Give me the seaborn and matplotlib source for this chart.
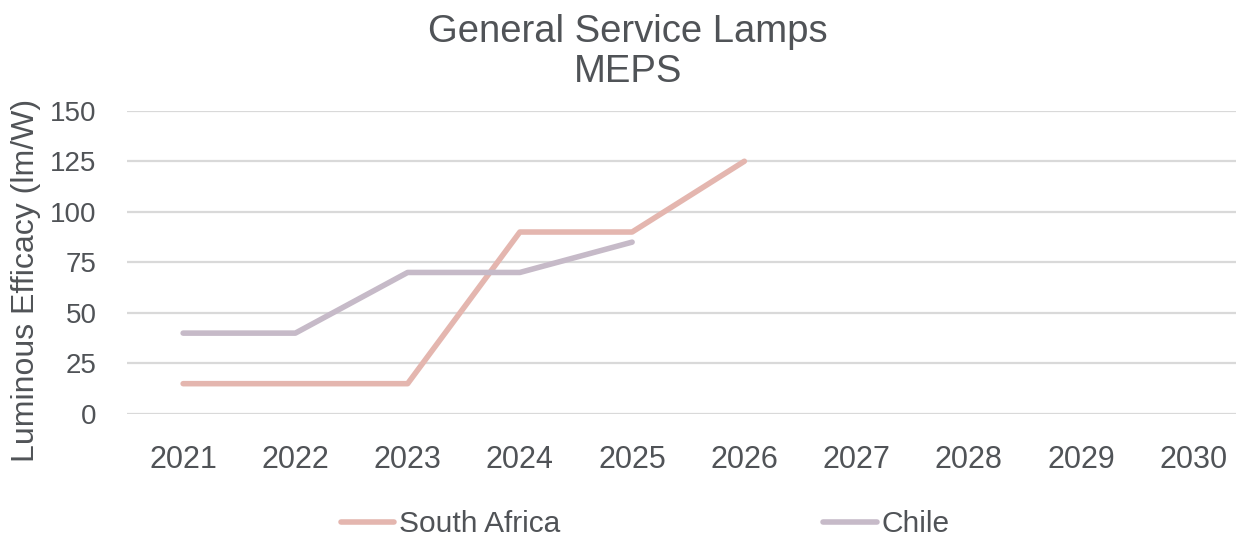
import matplotlib
matplotlib.use("Agg")
import matplotlib.pyplot as plt
import seaborn as sns
import pandas as pd

years = [2021, 2022, 2023, 2024, 2025, 2026, 2027, 2028, 2029, 2030]
sa_years = [2021, 2022, 2023, 2024, 2025, 2026]
sa_values = [15, 15, 15, 90, 90, 125]
cl_years = [2021, 2022, 2023, 2024, 2025]
cl_values = [40, 40, 70, 70, 85]
series_names = ["South Africa", "Chile"]
yticks = [0, 25, 50, 75, 100, 125, 150]

df = pd.concat([
    pd.DataFrame({"Year": sa_years, "Value": sa_values, "Series": series_names[0]}),
    pd.DataFrame({"Year": cl_years, "Value": cl_values, "Series": series_names[1]}),
])

sns.set_theme(style="white")
plt.rcParams["font.family"] = ["Liberation Sans", "DejaVu Sans"]
text_color = "#505357"

W, H = 1239, 538
fig = plt.figure(figsize=(W / 100, H / 100), dpi=100)
ax = fig.add_axes([127 / W, (H - 414) / H, (1236 - 127) / W, (414 - 110.7) / H])

palette = {"South Africa": "#E4B6AF", "Chile": "#C6BAC8"}
sns.lineplot(data=df, x="Year", y="Value", hue="Series", palette=palette,
             hue_order=series_names, linewidth=4.0, ax=ax, legend=True,
             solid_capstyle="round")

ax.set_ylim(0, 150)
ax.set_yticks(yticks)
ax.set_xticks(years)
ax.set_xticklabels([str(y) for y in years])
ax.set_xlim(2020.5, 2030.38)
ax.yaxis.grid(True, color="#D9D9D9", linewidth=1.6)
ax.set_axisbelow(True)
for s in ax.spines.values():
    s.set_visible(False)
ax.tick_params(axis="x", labelsize=22, colors=text_color, length=0, pad=22)
ax.tick_params(axis="y", labelsize=20, colors=text_color, length=0, pad=22)
ax.set_xlabel("")
ax.set_ylabel("Luminous Efficacy (lm/W)", fontsize=23, color=text_color)
ax.yaxis.set_label_coords(-86 / (1236 - 127), 0.44)

handles, labels = ax.get_legend_handles_labels()
ax.get_legend().remove()
leg = fig.legend(handles, labels, loc="center", bbox_to_anchor=(645 / W, 1 - 524 / H),
                 ncol=2, frameon=False, fontsize=21.5, handlelength=1.8,
                 handletextpad=0.15, columnspacing=8.8, borderpad=0.1)
for t in leg.get_texts():
    t.set_color(text_color)
for l in leg.get_lines():
    l.set_linewidth(4.0)

fig.text(628 / W, 1 - 52 / H, "General Service Lamps\nMEPS", ha="center", va="center",
         fontsize=27.5, color=text_color, linespacing=1.15)

fig.savefig("out.png", dpi=100, facecolor="white")
